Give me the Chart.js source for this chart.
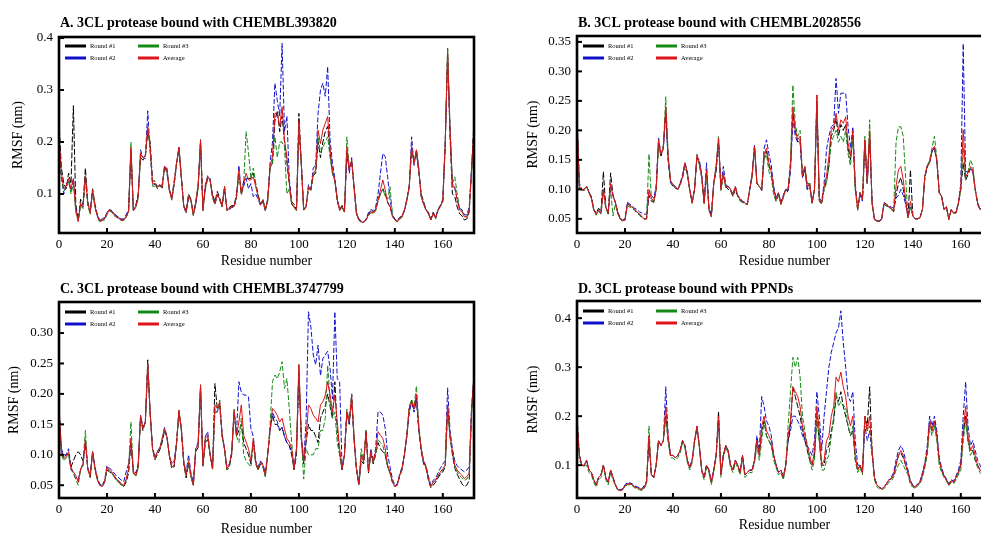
<!DOCTYPE html>
<html><head><meta charset="utf-8">
<script src="https://cdn.jsdelivr.net/npm/chart.js@4/dist/chart.umd.min.js"></script>
<style>
html,body{margin:0;padding:0;background:#fff;width:981px;height:535px;overflow:hidden;position:relative}
canvas{position:absolute}
</style></head><body>
<canvas id="cA" width="490" height="272" style="left:0;top:0"></canvas>
<canvas id="cB" width="520" height="272" style="left:490px;top:0"></canvas>
<canvas id="cC" width="490" height="270" style="left:0;top:268px"></canvas>
<canvas id="cD" width="520" height="270" style="left:490px;top:268px"></canvas>
<script>
// ---------- categories / labels ----------
const residues = Array.from({length: 174}, (_, i) => i);
const xTicks = [0, 20, 40, 60, 80, 100, 120, 140, 160];
const seriesNames = ['Round #1', 'Round #2', 'Round #3', 'Average'];
const titleA = 'A. 3CL protease bound with CHEMBL393820';
const titleB = 'B. 3CL protease bound with CHEMBL2028556';
const titleC = 'C. 3CL protease bound with CHEMBL3747799';
const titleD = 'D. 3CL protease bound with PPNDs';
const yTicksA = [0.1, 0.2, 0.3, 0.4];
const yTicksB = [0.05, 0.10, 0.15, 0.20, 0.25, 0.30, 0.35];
const yTicksC = [0.05, 0.10, 0.15, 0.20, 0.25, 0.30];
const yTicksD = [0.1, 0.2, 0.3, 0.4];

// ---------- Panel A ----------
const r1A = [.24,.15,.12,.11,.14,.12,.27,.08,.05,.09,
.08,.15,.085,.065,.11,.08,.06,.048,.05,.053,
.063,.07,.068,.062,.057,.054,.051,.05,.057,.068,
.18,.07,.078,.1,.17,.165,.175,.22,.2,.125,
.125,.11,.118,.11,.155,.14,.11,.092,.125,.16,
.185,.13,.078,.068,.1,.09,.062,.085,.118,.2,
.072,.11,.13,.125,.1,.085,.105,.092,.078,.11,
.07,.074,.078,.078,.1,.14,.105,.125,.13,.13,
.13,.14,.12,.1,.08,.09,.07,.09,.15,.16,
.24,.26,.22,.25,.2,.16,.12,.085,.08,.07,
.255,.16,.07,.078,.11,.11,.135,.14,.2,.17,
.2,.22,.23,.18,.14,.125,.09,.07,.078,.068,
.18,.15,.16,.115,.065,.052,.048,.046,.05,.062,
.068,.065,.07,.09,.1,.11,.1,.085,.075,.058,
.052,.048,.055,.058,.07,.09,.115,.19,.16,.18,
.14,.1,.085,.07,.065,.052,.065,.055,.07,.078,
.085,.19,.38,.21,.1,.095,.075,.062,.058,.05,
.052,.065,.15,.24];
const r2A = [.2,.13,.1,.12,.125,.105,.13,.072,.05,.08,
.075,.13,.08,.065,.105,.075,.058,.05,.052,.055,
.064,.07,.067,.063,.058,.055,.052,.052,.06,.07,
.185,.068,.075,.095,.185,.17,.168,.26,.18,.12,
.118,.116,.115,.118,.15,.15,.106,.09,.118,.155,
.19,.135,.075,.064,.092,.088,.06,.08,.112,.2,
.068,.118,.135,.13,.093,.08,.098,.09,.075,.115,
.068,.07,.074,.075,.095,.155,.1,.115,.13,.11,
.12,.095,.1,.09,.078,.085,.068,.09,.16,.2,
.313,.28,.25,.39,.22,.25,.13,.08,.075,.068,
.225,.16,.07,.075,.118,.11,.15,.155,.255,.3,
.313,.288,.345,.204,.16,.13,.09,.07,.075,.066,
.18,.14,.17,.11,.062,.05,.048,.046,.052,.064,
.07,.068,.075,.1,.14,.178,.172,.133,.09,.06,
.052,.048,.052,.056,.068,.087,.115,.21,.155,.185,
.15,.095,.08,.07,.062,.05,.062,.055,.07,.078,
.09,.2,.36,.23,.12,.11,.09,.072,.07,.06,
.06,.075,.15,.22];
const r3A = [.2,.13,.105,.11,.125,.1,.12,.065,.048,.078,
.072,.13,.08,.06,.105,.074,.056,.046,.049,.05,
.06,.067,.065,.058,.055,.052,.049,.049,.055,.064,
.2,.068,.074,.09,.175,.17,.172,.22,.19,.115,
.115,.115,.115,.112,.15,.145,.108,.088,.118,.158,
.19,.135,.075,.065,.095,.087,.058,.08,.112,.205,
.068,.112,.135,.126,.094,.08,.098,.088,.075,.115,
.068,.072,.076,.075,.092,.14,.098,.12,.22,.18,
.13,.15,.12,.095,.078,.088,.068,.085,.15,.16,
.21,.17,.2,.2,.19,.1,.11,.08,.074,.068,
.235,.155,.068,.075,.112,.105,.135,.145,.21,.18,
.19,.2,.21,.17,.14,.125,.085,.068,.075,.064,
.21,.15,.165,.115,.062,.049,.046,.045,.05,.058,
.064,.062,.068,.085,.1,.11,.095,.09,.114,.06,
.05,.046,.052,.055,.068,.087,.112,.185,.16,.185,
.145,.095,.08,.068,.062,.05,.062,.052,.068,.075,
.088,.2,.38,.23,.12,.133,.1,.072,.068,.058,
.056,.068,.14,.23];
const avgA = [.21,.14,.11,.115,.13,.11,.13,.07,.047,.082,
.076,.135,.082,.063,.108,.076,.058,.047,.05,.052,
.062,.069,.066,.06,.056,.053,.05,.05,.056,.066,
.19,.069,.076,.095,.178,.17,.172,.23,.19,.12,
.12,.114,.116,.114,.153,.146,.108,.09,.12,.159,
.19,.133,.076,.066,.095,.088,.06,.082,.114,.204,
.069,.114,.133,.127,.095,.082,.1,.09,.076,.114,
.069,.072,.076,.076,.095,.146,.1,.12,.14,.127,
.127,.133,.114,.095,.079,.088,.069,.088,.153,.172,
.255,.255,.23,.268,.204,.172,.12,.082,.076,.069,
.24,.159,.069,.076,.114,.108,.14,.146,.223,.197,
.223,.236,.249,.185,.146,.127,.088,.069,.076,.066,
.19,.146,.165,.114,.063,.05,.047,.045,.05,.06,
.066,.063,.069,.088,.108,.127,.108,.082,.076,.056,
.05,.047,.053,.056,.069,.088,.114,.19,.159,.185,
.146,.095,.082,.069,.063,.05,.063,.053,.069,.076,
.088,.197,.37,.223,.114,.114,.088,.069,.066,.056,
.056,.069,.146,.23];

// ---------- Panel B ----------
const r1B = [.225,.11,.1,.098,.105,.095,.088,.066,.06,.068,
.062,.13,.07,.058,.128,.09,.078,.06,.05,.047,
.048,.076,.073,.07,.066,.062,.058,.054,.05,.05,
.09,.08,.078,.1,.18,.155,.175,.23,.15,.112,
.105,.102,.1,.11,.12,.14,.125,.098,.078,.1,
.155,.145,.12,.075,.13,.068,.055,.11,.13,.18,
.1,.125,.105,.1,.098,.088,.1,.088,.082,.078,
.076,.074,.1,.125,.173,.11,.105,.098,.155,.165,
.14,.128,.1,.08,.092,.075,.088,.1,.098,.14,
.229,.2,.18,.185,.12,.135,.1,.11,.076,.1,
.25,.08,.075,.1,.115,.14,.19,.2,.22,.19,
.21,.2,.21,.17,.15,.19,.1,.066,.095,.083,
.184,.11,.19,.078,.05,.047,.046,.049,.075,.072,
.07,.066,.062,.09,.11,.12,.1,.08,.052,.133,
.055,.05,.05,.052,.066,.12,.138,.145,.165,.17,
.148,.095,.088,.066,.07,.05,.065,.06,.06,.076,
.1,.145,.115,.125,.135,.13,.1,.075,.065,.07,
.08,.088,.08,.1];
const r2B = [.21,.1,.1,.1,.105,.095,.085,.066,.058,.064,
.06,.1,.07,.062,.105,.09,.078,.062,.052,.048,
.05,.078,.075,.072,.068,.066,.062,.06,.058,.058,
.095,.09,.085,.105,.187,.16,.168,.23,.15,.112,
.106,.105,.1,.11,.125,.145,.13,.1,.078,.1,
.155,.15,.125,.08,.145,.07,.056,.11,.14,.18,
.105,.139,.108,.105,.1,.092,.105,.09,.085,.08,
.078,.075,.1,.125,.175,.11,.105,.1,.17,.184,
.16,.14,.105,.085,.095,.078,.09,.1,.095,.13,
.22,.19,.18,.18,.12,.135,.1,.105,.078,.1,
.24,.085,.08,.11,.167,.19,.206,.21,.288,.229,
.263,.263,.263,.206,.17,.206,.11,.068,.09,.08,
.175,.11,.19,.078,.05,.046,.047,.05,.078,.075,
.072,.07,.068,.085,.09,.1,.09,.075,.052,.07,
.055,.05,.05,.052,.066,.12,.14,.145,.165,.17,
.15,.095,.088,.066,.07,.05,.066,.06,.062,.078,
.11,.347,.13,.13,.135,.13,.1,.078,.066,.07,
.08,.09,.08,.1];
const r3B = [.215,.1,.098,.1,.105,.094,.084,.064,.056,.062,
.058,.095,.068,.058,.1,.055,.075,.058,.05,.046,
.047,.072,.07,.068,.064,.06,.056,.052,.05,.05,
.16,.085,.078,.1,.175,.16,.17,.257,.16,.115,
.108,.105,.1,.106,.12,.145,.128,.1,.076,.1,
.16,.14,.12,.076,.128,.064,.053,.11,.14,.19,
.098,.125,.102,.105,.1,.09,.105,.09,.08,.078,
.076,.074,.1,.12,.17,.11,.104,.1,.15,.16,
.13,.12,.09,.08,.092,.074,.085,.1,.1,.15,
.277,.21,.19,.2,.125,.14,.11,.11,.076,.1,
.26,.082,.076,.1,.11,.14,.18,.19,.2,.18,
.19,.18,.2,.16,.14,.19,.1,.064,.095,.083,
.19,.11,.218,.076,.048,.046,.046,.048,.075,.072,
.07,.066,.062,.18,.206,.206,.19,.12,.052,.07,
.055,.05,.05,.052,.066,.125,.14,.15,.17,.19,
.152,.094,.088,.066,.07,.048,.065,.06,.06,.076,
.1,.17,.12,.13,.15,.14,.1,.076,.066,.07,
.08,.09,.08,.1];
const avgB = [.218,.105,.1,.1,.105,.095,.085,.065,.058,.065,
.06,.1,.07,.06,.11,.088,.077,.06,.05,.047,
.048,.075,.072,.07,.066,.062,.058,.054,.05,.05,
.1,.085,.08,.1,.184,.16,.17,.24,.155,.115,
.108,.105,.1,.108,.122,.145,.128,.1,.077,.1,
.158,.145,.122,.077,.133,.066,.054,.11,.139,.187,
.1,.128,.105,.105,.1,.09,.105,.09,.083,.08,
.077,.075,.1,.122,.173,.11,.105,.1,.16,.17,
.145,.13,.1,.083,.094,.075,.088,.1,.1,.14,
.24,.2,.184,.19,.122,.139,.105,.11,.077,.1,
.26,.083,.077,.105,.122,.156,.2,.206,.229,.2,
.218,.212,.223,.178,.156,.2,.105,.066,.094,.083,
.184,.111,.2,.077,.049,.046,.046,.049,.077,.074,
.071,.068,.063,.105,.133,.139,.116,.083,.052,.08,
.055,.05,.05,.052,.066,.122,.139,.145,.167,.173,
.15,.094,.088,.066,.071,.049,.066,.06,.06,.077,
.105,.201,.122,.128,.139,.133,.1,.077,.066,.07,
.08,.09,.08,.1];

// ---------- Panel C ----------
const r1C = [.17,.105,.095,.1,.1,.08,.09,.1,.105,.1,
.09,.12,.078,.064,.105,.078,.06,.05,.048,.055,
.075,.072,.07,.064,.058,.055,.05,.048,.055,.07,
.12,.07,.066,.08,.16,.14,.155,.256,.165,.11,
.092,.1,.108,.12,.14,.128,.098,.078,.08,.118,
.17,.14,.085,.062,.085,.064,.05,.105,.112,.21,
.08,.12,.125,.1,.078,.217,.175,.18,.13,.11,
.075,.08,.1,.17,.13,.14,.15,.12,.11,.1,
.085,.12,.085,.075,.085,.08,.065,.1,.14,.165,
.15,.15,.14,.145,.13,.12,.115,.1,.075,.1,
.24,.125,.085,.12,.15,.14,.14,.13,.12,.16,
.17,.18,.2,.18,.16,.22,.14,.1,.075,.1,
.17,.15,.19,.125,.075,.05,.09,.085,.14,.07,
.1,.085,.1,.12,.11,.105,.1,.08,.07,.055,
.048,.05,.065,.075,.1,.13,.175,.19,.175,.195,
.14,.105,.085,.078,.058,.046,.05,.055,.062,.068,
.072,.08,.18,.13,.1,.078,.068,.06,.052,.048,
.05,.058,.17,.23];
const r2C = [.18,.11,.1,.1,.11,.08,.07,.06,.06,.075,
.082,.12,.078,.066,.105,.08,.062,.052,.05,.058,
.082,.078,.075,.07,.065,.062,.058,.056,.072,.085,
.12,.075,.07,.085,.165,.145,.155,.245,.17,.112,
.096,.105,.112,.125,.145,.13,.1,.085,.09,.12,
.17,.145,.09,.07,.1,.07,.055,.11,.12,.21,
.085,.13,.138,.1,.078,.175,.17,.185,.135,.11,
.08,.085,.105,.17,.135,.22,.203,.198,.198,.195,
.143,.13,.09,.08,.09,.085,.07,.1,.14,.17,
.16,.155,.14,.145,.13,.12,.115,.105,.078,.11,
.23,.13,.09,.154,.335,.31,.264,.248,.28,.23,
.258,.264,.27,.242,.192,.335,.225,.22,.08,.1,
.17,.15,.2,.125,.078,.055,.1,.09,.135,.075,
.11,.09,.11,.171,.17,.165,.143,.1,.08,.06,
.05,.052,.068,.08,.1,.13,.17,.185,.17,.19,
.14,.11,.09,.082,.065,.05,.058,.062,.07,.078,
.085,.09,.21,.14,.11,.09,.082,.078,.075,.072,
.075,.08,.18,.23];
const r3C = [.18,.1,.09,.095,.1,.075,.07,.06,.05,.075,
.085,.14,.076,.062,.105,.075,.058,.05,.048,.055,
.078,.073,.07,.064,.058,.055,.05,.049,.058,.075,
.154,.07,.064,.078,.165,.143,.152,.245,.17,.108,
.092,.105,.11,.128,.143,.13,.1,.08,.082,.12,
.175,.14,.088,.066,.088,.064,.05,.11,.115,.215,
.082,.127,.13,.1,.075,.17,.17,.19,.13,.108,
.075,.08,.105,.175,.13,.12,.16,.1,.09,.085,
.08,.125,.088,.075,.088,.082,.064,.1,.15,.22,
.231,.225,.236,.253,.209,.225,.176,.12,.076,.11,
.25,.13,.06,.11,.1,.1,.1,.11,.11,.14,
.14,.16,.247,.19,.16,.17,.12,.1,.075,.1,
.175,.155,.2,.13,.078,.052,.11,.09,.14,.072,
.105,.088,.1,.125,.12,.115,.1,.08,.07,.055,
.048,.05,.066,.078,.1,.135,.18,.19,.18,.213,
.15,.11,.088,.08,.06,.048,.055,.058,.065,.07,
.075,.08,.17,.13,.105,.08,.072,.066,.062,.058,
.06,.068,.17,.22];
const avgC = [.18,.105,.094,.097,.105,.077,.072,.066,.055,.077,
.085,.125,.077,.064,.105,.077,.06,.05,.048,.055,
.08,.075,.072,.066,.06,.057,.052,.05,.06,.077,
.127,.072,.066,.08,.165,.143,.154,.25,.17,.11,
.094,.105,.11,.125,.143,.13,.1,.08,.083,.12,
.173,.143,.088,.066,.09,.066,.05,.11,.116,.215,
.083,.127,.132,.1,.077,.182,.176,.187,.132,.11,
.077,.083,.105,.173,.132,.154,.182,.132,.121,.11,
.09,.127,.088,.077,.088,.083,.066,.1,.143,.176,
.171,.165,.154,.16,.143,.127,.121,.11,.077,.11,
.248,.132,.088,.127,.182,.176,.165,.16,.154,.182,
.187,.198,.22,.198,.171,.198,.154,.11,.077,.1,
.171,.154,.198,.127,.077,.052,.1,.088,.138,.072,
.105,.088,.105,.138,.132,.127,.11,.083,.072,.055,
.048,.05,.066,.077,.1,.132,.176,.187,.176,.2,
.143,.11,.088,.08,.06,.048,.055,.058,.066,.072,
.077,.083,.182,.132,.105,.083,.075,.07,.066,.061,
.064,.07,.176,.23];

// ---------- Panel D ----------
const r1D = [.2,.12,.1,.098,.11,.09,.085,.07,.06,.075,
.08,.1,.075,.065,.09,.075,.06,.05,.048,.05,
.058,.062,.062,.06,.056,.054,.052,.05,.055,.065,
.15,.08,.075,.1,.15,.14,.15,.2,.15,.12,
.12,.115,.12,.13,.15,.14,.11,.095,.11,.15,
.175,.14,.09,.075,.1,.09,.065,.09,.12,.21,
.08,.12,.14,.13,.1,.09,.11,.1,.085,.12,
.08,.085,.09,.09,.11,.15,.12,.17,.19,.16,
.15,.14,.12,.1,.085,.09,.075,.1,.15,.18,
.26,.24,.22,.2,.17,.15,.13,.11,.1,.12,
.2,.15,.1,.1,.13,.14,.17,.19,.24,.23,
.25,.22,.2,.18,.16,.17,.11,.09,.1,.085,
.2,.18,.26,.13,.075,.06,.055,.052,.055,.062,
.07,.072,.08,.1,.12,.125,.115,.1,.085,.065,
.058,.055,.06,.065,.08,.1,.13,.19,.17,.19,
.16,.11,.09,.078,.07,.06,.068,.065,.075,.085,
.1,.16,.2,.15,.13,.13,.11,.1,.09,.085,
.08,.085,.12,.17];
const r2D = [.18,.12,.1,.1,.11,.09,.085,.07,.06,.075,
.08,.1,.075,.065,.09,.075,.06,.05,.05,.052,
.06,.064,.064,.062,.058,.056,.054,.052,.058,.068,
.15,.08,.075,.1,.15,.14,.15,.26,.16,.12,
.12,.115,.12,.13,.15,.14,.11,.095,.11,.15,
.18,.14,.09,.075,.1,.09,.065,.09,.12,.19,
.08,.12,.14,.13,.1,.09,.11,.1,.085,.12,
.08,.085,.09,.09,.11,.16,.13,.24,.22,.19,
.18,.16,.12,.1,.085,.09,.075,.1,.15,.17,
.2,.2,.19,.18,.16,.15,.14,.13,.12,.15,
.25,.2,.13,.2,.25,.3,.33,.35,.37,.38,
.415,.35,.3,.24,.23,.25,.15,.1,.1,.085,
.18,.15,.17,.12,.075,.06,.055,.052,.055,.062,
.07,.075,.085,.11,.13,.14,.13,.11,.09,.068,
.06,.056,.062,.068,.085,.105,.14,.2,.18,.2,
.17,.115,.095,.08,.072,.062,.07,.068,.078,.09,
.11,.2,.27,.18,.14,.15,.13,.11,.1,.09,
.085,.09,.13,.18];
const r3D = [.18,.11,.1,.1,.1,.085,.08,.065,.055,.07,
.075,.1,.07,.06,.085,.07,.058,.05,.048,.05,
.056,.06,.06,.058,.054,.052,.05,.048,.052,.062,
.18,.08,.075,.1,.15,.14,.15,.2,.15,.115,
.115,.11,.115,.125,.145,.135,.105,.09,.105,.145,
.18,.135,.085,.07,.095,.085,.06,.085,.115,.2,
.075,.115,.135,.125,.095,.085,.105,.095,.08,.115,
.075,.08,.085,.085,.105,.14,.11,.15,.19,.16,
.15,.14,.11,.095,.08,.085,.07,.095,.18,.25,
.32,.3,.32,.28,.2,.17,.14,.11,.09,.11,
.2,.15,.09,.09,.11,.12,.16,.2,.25,.22,
.23,.22,.22,.18,.16,.18,.11,.085,.095,.08,
.2,.17,.18,.13,.07,.056,.052,.05,.052,.058,
.065,.068,.075,.09,.1,.11,.1,.09,.08,.06,
.055,.052,.058,.062,.075,.095,.12,.18,.16,.18,
.15,.1,.085,.075,.068,.058,.065,.062,.07,.08,
.09,.15,.19,.15,.12,.13,.11,.095,.085,.08,
.075,.08,.11,.16];
const avgD = [.19,.12,.1,.1,.11,.09,.085,.07,.06,.075,
.08,.1,.075,.065,.09,.075,.06,.05,.048,.05,
.058,.062,.062,.06,.056,.054,.052,.05,.055,.065,
.16,.08,.075,.1,.15,.14,.15,.22,.16,.12,
.12,.115,.12,.13,.15,.14,.11,.095,.11,.15,
.18,.14,.09,.075,.1,.09,.065,.09,.12,.2,
.08,.12,.14,.13,.1,.09,.11,.1,.085,.12,
.08,.085,.09,.09,.11,.15,.12,.18,.2,.17,
.16,.15,.12,.1,.085,.09,.075,.1,.16,.19,
.26,.25,.24,.22,.18,.16,.14,.12,.1,.13,
.22,.17,.1,.11,.15,.16,.2,.22,.28,.27,
.29,.26,.24,.2,.18,.2,.12,.09,.1,.085,
.2,.17,.2,.13,.075,.06,.055,.052,.055,.062,
.07,.072,.08,.1,.12,.13,.12,.1,.085,.065,
.058,.055,.06,.065,.08,.1,.13,.19,.17,.19,
.16,.11,.09,.078,.07,.06,.068,.065,.075,.085,
.1,.17,.22,.16,.13,.14,.12,.1,.09,.085,
.08,.085,.12,.17];

// ---------- styling ----------
const colors = ['#000000', '#1010cc', '#168a16', '#dd1418'];
const dashes = [[6, 2], [5, 2], [5, 2], []];
const widths = [1, 1, 1, 1];
const drawOrder = [3, 2, 1, 0];
const SERIF = '"Liberation Serif", "Times New Roman", serif';

const panelPlugin = {
  id: 'panel',
  afterDatasetsDraw(chart, args, opts) {
    const {ctx, chartArea: a, scales: {x, y}} = chart;
    ctx.save();
    ctx.strokeStyle = '#000';
    ctx.lineWidth = 2.6;
    ctx.strokeRect(a.left, a.top, a.right - a.left, a.bottom - a.top);
    ctx.lineWidth = 2;
    x.ticks.forEach(t => {
      const px = x.getPixelForValue(t.value);
      ctx.beginPath(); ctx.moveTo(px, a.bottom); ctx.lineTo(px, a.bottom - 5); ctx.stroke();
    });
    y.ticks.forEach(t => {
      const py = y.getPixelForValue(t.value);
      ctx.beginPath(); ctx.moveTo(a.left, py); ctx.lineTo(a.left + 5, py); ctx.stroke();
    });
    const cols = [[0, 1], [2, 3]];
    const colX = [6, 79];
    ctx.font = '6.5px ' + SERIF;
    ctx.textBaseline = 'middle';
    ctx.fillStyle = '#000';
    cols.forEach((col, ci) => col.forEach((di, ri) => {
      const ds = chart.data.datasets[di];
      const lx = a.left + colX[ci];
      const ly = a.top + opts.legendTop + ri * 12;
      ctx.strokeStyle = ds.borderColor;
      ctx.lineWidth = 3;
      ctx.setLineDash([]);
      ctx.beginPath(); ctx.moveTo(lx, ly); ctx.lineTo(lx + 21, ly); ctx.stroke();
      ctx.fillText(ds.label, lx + 25, ly);
    }));
    ctx.font = 'bold 14px ' + SERIF;
    ctx.textBaseline = 'middle';
    ctx.textAlign = 'left';
    ctx.fillText(opts.title, a.left + 1, a.top - opts.titleGap);
    ctx.restore();
  }
};

function makePanel(id, title, series, yTicks, dec, yMin, yMax, pad, yW, xH, yTitlePad, xTitlePad, titleGap, legendTop) {
  const datasets = series.map((vals, i) => ({
    label: seriesNames[i],
    data: vals,
    borderColor: colors[i],
    backgroundColor: colors[i],
    borderWidth: widths[i],
    borderDash: dashes[i],
    pointRadius: 0,
    tension: 0,
    fill: false,
    order: drawOrder[i]
  }));
  new Chart(document.getElementById(id), {
    type: 'line',
    data: {labels: residues, datasets},
    plugins: [panelPlugin],
    options: {
      responsive: false,
      animation: false,
      devicePixelRatio: 1,
      layout: {padding: pad},
      plugins: {
        legend: {display: false},
        tooltip: {enabled: false},
        panel: {title, titleGap, legendTop}
      },
      scales: {
        x: {
          type: 'linear', min: 0, max: 173,
          afterFit: s => { s.height = xH; },
          afterBuildTicks: s => { s.ticks = xTicks.map(v => ({value: v})); },
          grid: {display: false, drawTicks: false},
          border: {display: false},
          ticks: {color: '#000', font: {family: SERIF, size: 13}, padding: 4, maxRotation: 0, autoSkip: false},
          title: {display: true, text: 'Residue number', color: '#000', font: {family: SERIF, size: 14}, padding: {top: 0, bottom: xTitlePad}}
        },
        y: {
          min: yMin, max: yMax,
          afterFit: s => { s.width = yW; },
          afterBuildTicks: s => { s.ticks = yTicks.map(v => ({value: v})); },
          grid: {display: false, drawTicks: false},
          border: {display: false},
          ticks: {color: '#000', font: {family: SERIF, size: 13}, padding: 6, callback: v => Number(v).toFixed(dec)},
          title: {display: true, text: 'RMSF (nm)', color: '#000', font: {family: SERIF, size: 14}, padding: {top: yTitlePad, bottom: 0}}
        }
      }
    }
  });
}

makePanel('cA', titleA, [r1A, r2A, r3A, avgA], yTicksA, 1, 0.025, 0.402,
  {left: 0, top: 37, right: 16, bottom: 0}, 59, 39, 10, 2, 14, 9);
makePanel('cB', titleB, [r1B, r2B, r3B, avgB], yTicksB, 2, 0.026, 0.36,
  {left: 0, top: 36, right: 18, bottom: 0}, 87, 39, 35, 2, 13, 10);
makePanel('cC', titleC, [r1C, r2C, r3C, avgC], yTicksC, 2, 0.029, 0.351,
  {left: 0, top: 34, right: 16, bottom: 0}, 59, 40, 6, 0, 13, 10);
makePanel('cD', titleD, [r1D, r2D, r3D, avgD], yTicksD, 1, 0.033, 0.435,
  {left: 0, top: 33, right: 18, bottom: 0}, 87, 40, 35, 4, 12, 10);
</script>
</body></html>
